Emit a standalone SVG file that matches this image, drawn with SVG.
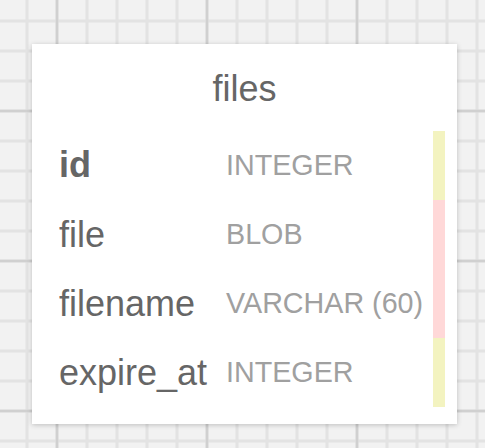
<svg xmlns="http://www.w3.org/2000/svg" width="485" height="448" viewBox="0 0 485 448">
<defs>
<pattern id="minor" x="12" y="6" width="30" height="30" patternUnits="userSpaceOnUse">
<rect width="30" height="30" fill="#f2f2f2"/>
<path d="M15 0V30M0 15H30" stroke="#e3e3e3" stroke-width="3" fill="none"/>
</pattern>
<pattern id="major" x="-18" y="36" width="150" height="150" patternUnits="userSpaceOnUse">
<path d="M75 0V150M0 75H150" stroke="#d0d0d0" stroke-width="2.5" fill="none"/>
</pattern>
<filter id="shadow" x="-10%" y="-10%" width="120%" height="120%">
<feDropShadow dx="0" dy="1" stdDeviation="2.5" flood-color="#000" flood-opacity="0.22"/>
</filter>
</defs>
<style>
.name{font-family:"Liberation Sans",Arial,sans-serif;font-size:36px;fill:#666666}
.type{font-family:"Liberation Sans",Arial,sans-serif;font-size:28.7px;fill:#a0a0a0}
.title{font-family:"Liberation Sans",Arial,sans-serif;font-size:36px;fill:#666666}
</style>
<rect width="485" height="448" fill="url(#minor)"/>
<rect width="485" height="448" fill="url(#major)"/>
<g id="files">
<rect x="32" y="44" width="425" height="380" fill="#ffffff" filter="url(#shadow)"/>
<text class="title" x="244.5" y="101" text-anchor="middle">files</text>
<rect x="433" y="131" width="12" height="69" fill="#f3f3c0"/>
<rect x="433" y="200" width="12" height="138" fill="#ffd8d8"/>
<rect x="433" y="338" width="12" height="69" fill="#f3f3c0"/>
<text class="name" x="59" y="177" font-weight="bold">id</text>
<text class="type" x="226" y="174.5">INTEGER</text>
<text class="name" x="59" y="246.5">file</text>
<text class="type" x="226" y="243.5">BLOB</text>
<text class="name" x="59" y="316">filename</text>
<text class="type" x="226" y="312.5">VARCHAR (60)</text>
<text class="name" x="59" y="385">expire_at</text>
<text class="type" x="226" y="381.5">INTEGER</text>
</g>
<g id="connectors"/>
</svg>
